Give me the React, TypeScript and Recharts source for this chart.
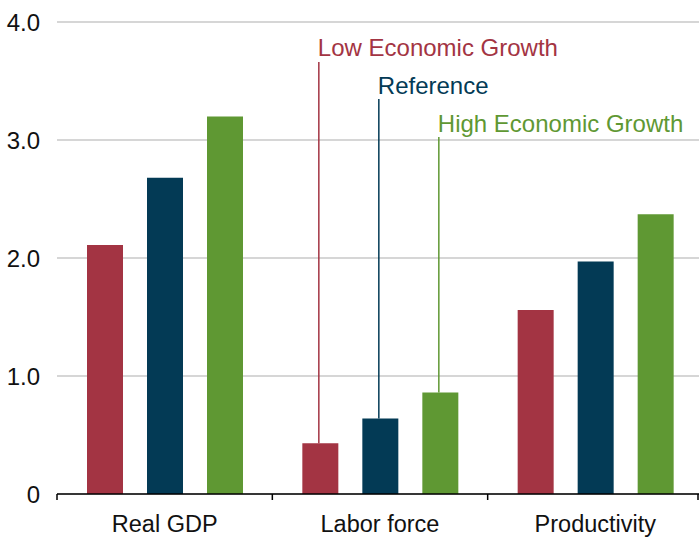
import React from "react";
import { BarChart, Bar, XAxis, YAxis, CartesianGrid, LabelList } from "recharts";

const categories = ["Real GDP", "Labor force", "Productivity"];
const lowGrowth = [2.11, 0.43, 1.56];
const reference = [2.68, 0.64, 1.97];
const highGrowth = [3.2, 0.86, 2.37];
const yTicks = [0, 1, 2, 3, 4];

const FONT = "'Liberation Sans', Arial, sans-serif";

const SERIES = [
  { key: "lowGrowth", name: "Low Economic Growth", color: "#A33443", textY: 56, lineTop: 62 },
  { key: "reference", name: "Reference", color: "#033A55", textY: 94, lineTop: 99 },
  { key: "highGrowth", name: "High Economic Growth", color: "#5F9833", textY: 132, lineTop: 137 },
];

const data = categories.map((name, i) => ({
  name,
  lowGrowth: lowGrowth[i],
  reference: reference[i],
  highGrowth: highGrowth[i],
}));

const CategoryTick = (props: any) => {
  const { x, y, payload, index, visibleTicksCount } = props;
  const half = payload?.offset ?? 0;
  const last = index === visibleTicksCount - 1;
  return (
    <g>
      <line x1={x - half} x2={x - half} y1={y} y2={y + 6} stroke="#000" strokeWidth={1.5} />
      {/* the plot runs a few px past the window edge, so pull the last tick back into view */}
      {last && (
        <line x1={x + half - 5} x2={x + half - 5} y1={y} y2={y + 6} stroke="#000" strokeWidth={1.5} />
      )}
      <text x={x} y={y + 38} textAnchor="middle" fontSize={23.5} fontFamily={FONT} fill="#111">
        {payload.value}
      </text>
    </g>
  );
};

// callout line + label above the Labor force bars
const makeCallout = (s: (typeof SERIES)[number]) => (props: any) => {
  const { x, y, width, index } = props;
  if (index !== 1) return null;
  const cx = x + width / 2 - 1.5;
  return (
    <g>
      <line x1={cx} x2={cx} y1={s.lineTop} y2={y} stroke={s.color} strokeWidth={1.5} />
      <text x={cx - 1} y={s.textY} fontSize={24} fontFamily={FONT} fill={s.color}>
        {s.name}
      </text>
    </g>
  );
};

export default function App() {
  return (
    <div
      style={{
        position: "absolute",
        left: 0,
        top: 0,
        width: 699,
        height: 537,
        overflow: "hidden",
        background: "#fff",
      }}
    >
      <BarChart
        width={703}
        height={537}
        data={data}
        margin={{ top: 22, right: 0, left: 0, bottom: 0 }}
        barSize={36}
        barGap={24}
      >
        <CartesianGrid vertical={false} stroke="#c8c8c8" strokeWidth={1.5} />
        <XAxis
          dataKey="name"
          height={43}
          tickLine={false}
          tickSize={0}
          tickMargin={0}
          axisLine={{ stroke: "#000", strokeWidth: 1.5 }}
          tick={<CategoryTick />}
          interval={0}
        />
        <YAxis
          width={57}
          domain={[0, 4]}
          ticks={yTicks}
          axisLine={false}
          tickLine={false}
          tickSize={0}
          tickMargin={17}
          tickFormatter={(v: number) => (v === 0 ? "0" : v.toFixed(1))}
          tick={{ fontSize: 24, fontFamily: FONT, fill: "#111" }}
        />
        {SERIES.map((s) => (
          <Bar key={s.key} dataKey={s.key} name={s.name} fill={s.color} isAnimationActive={false}>
            <LabelList dataKey={s.key} content={makeCallout(s)} />
          </Bar>
        ))}
      </BarChart>
    </div>
  );
}
